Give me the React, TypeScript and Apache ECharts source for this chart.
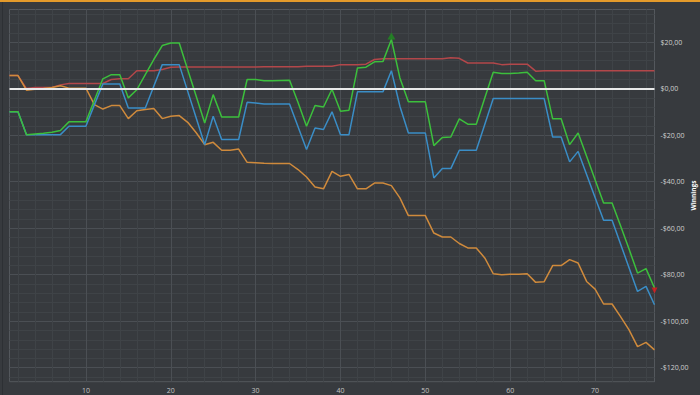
import React, { useEffect, useRef } from "react";
import * as echarts from "echarts";

// x positions (hand / game number)
const xValues = [
  1, 2, 3, 4, 5, 6, 7, 8, 9, 10, 11, 12, 13, 14, 15, 16, 17, 18, 19, 20,
  21, 22, 23, 24, 25, 26, 27, 28, 29, 30, 31, 32, 33, 34, 35, 36, 37, 38, 39, 40,
  41, 42, 43, 44, 45, 46, 47, 48, 49, 50, 51, 52, 53, 54, 55, 56, 57, 58, 59, 60,
  61, 62, 63, 64, 65, 66, 67, 68, 69, 70, 71, 72, 73, 74, 75, 76, 77,
];

const redValues = [
  5.6, 5.6, 0, 0.5, 0.5, 0.5, 1.6, 2.2, 2.2, 2.2, 2.2, 2.2, 3.9, 4.2, 4.2, 7.7, 7.7, 7.7, 8.2, 9.2,
  9.3, 9.3, 9.3, 9.3, 9.3, 9.3, 9.3, 9.3, 9.3, 9.3, 9.4, 9.4, 9.4, 9.4, 9.4, 9.6, 9.6, 9.6, 9.6, 10.3,
  10.3, 10.3, 10.5, 12.5, 12.8, 12.8, 12.8, 12.8, 12.8, 12.8, 12.8, 12.8, 13.3, 13.0, 11.0, 11.0, 11.0, 11.0, 10.3, 10.5,
  10.5, 10.5, 7.5, 7.7, 7.7, 7.7, 7.7, 7.7, 7.7, 7.7, 7.7, 7.7, 7.7, 7.7, 7.7, 7.7, 7.7,
];

const orangeValues = [
  5.6, 5.6, -0.7, -0.3, 0, 0.5, 1.2, 0.2, 0.2, 0.2, -6.9, -8.8, -7.3, -7.3, -12.9, -9.5, -9.0, -8.6, -12.9, -11.9,
  -11.6, -14.5, -19, -24.1, -23.1, -26.5, -26.5, -26, -31.7, -31.9, -32.1, -32.2, -32.2, -32.2, -34.8, -38, -42.3, -43.1, -35.6, -37.7,
  -36.9, -43.1, -43.1, -40.6, -40.6, -41.7, -47, -54.6, -54.6, -54.6, -62.1, -63.8, -63.8, -66.6, -68.5, -68.5, -72.8, -79.6, -80, -79.8,
  -79.8, -79.6, -83.3, -83, -76.1, -76.1, -73.5, -75, -82.9, -86.2, -92.6, -92.6, -98, -103.7, -110.9, -109.1, -112.3,
];

const blueValues = [
  -10, -10, -19.8, -19.8, -19.8, -19.8, -19.8, -16.2, -16.2, -16.2, -7, 2.0, 2.0, 2.0, -8.3, -8.3, -8.3, 1, 10.3, 10.3,
  10.3, -1.2, -12.6, -24.1, -11.9, -21.9, -21.9, -21.9, -5.9, -6.2, -6.6, -6.6, -6.6, -6.6, -16.4, -26.2, -16.9, -17.6, -10, -19.8,
  -19.8, -1.4, -1.4, -1.4, -1.4, 7.7, -7.6, -19.1, -19.1, -19.1, -38.4, -34.4, -34.4, -26.5, -26.5, -26.5, -15.4, -4.3, -4.3, -4.3,
  -4.3, -4.3, -4.3, -4.3, -20.8, -20.8, -31.5, -27, -36.9, -46.8, -56.6, -56.6, -66.8, -77, -87.2, -85, -92.9,
];

const greenValues = [
  -10, -10, -19.8, -19.5, -19.2, -18.8, -18, -14.3, -14.3, -14.3, -5, 4.2, 6, 6, -4, -0.5, 6, 12.5, 18.5, 19.6,
  19.6, 8.1, -3.3, -14.8, -2.6, -12.2, -12.2, -12.2, 3.9, 3.9, 3.4, 3.4, 3.5, 3.6, -6, -16.2, -7.3, -7.9, -0.3, -9.7,
  -9.3, 8.9, 9.2, 11.5, 11.6, 21.1, 4.6, -5.7, -5.7, -5.7, -24.5, -21, -20.8, -13, -15.3, -15.3, -4, 7.0, 6.5, 6.5,
  6.7, 7.0, 3.4, 3.4, -13, -13, -24.1, -19.1, -29.1, -39.2, -49.2, -49.2, -59, -69, -79.3, -77.4, -85.7,
];

const yTickLabels = [-120, -100, -80, -60, -40, -20, 0, 20];
const xTickLabels = [10, 20, 30, 40, 50, 60, 70];
const yMinorGrid = [
  -124, -120, -116, -112, -108, -104, -100, -96, -92, -88, -84, -80, -76, -72, -68, -64, -60, -56, -52, -48,
  -44, -40, -36, -32, -28, -24, -20, -16, -12, -8, -4, 4, 8, 12, 16, 20, 24, 28, 32,
];
const xMinorGrid = [
  2, 4, 6, 8, 10, 12, 14, 16, 18, 20, 22, 24, 26, 28, 30, 32, 34, 36, 38, 40,
  42, 44, 46, 48, 50, 52, 54, 56, 58, 60, 62, 64, 66, 68, 70, 72, 74, 76,
];
const yAxisTitle = "Winnings";

const FONT = "'Open Sans', 'Noto Sans', sans-serif";
const MINOR = "#3f4347";
const MAJOR = "#4b4f54";

function fmtMoney(v: number) {
  const s = "$" + Math.abs(v).toFixed(2).replace(".", ",");
  return v < 0 ? "-" + s : s;
}

export default function App() {
  const ref = useRef<HTMLDivElement>(null);

  useEffect(() => {
    if (!ref.current) return;
    const chart = echarts.init(ref.current, undefined, { renderer: "svg" });
    const pairs = (vals: number[]) => xValues.map((x, i) => [x, vals[i]]);

    let maxI = 0;
    let minI = 0;
    greenValues.forEach((v, i) => {
      if (v > greenValues[maxI]) maxI = i;
      if (v < greenValues[minI]) minI = i;
    });

    const gridLines: any[] = [
      ...yMinorGrid.map((v) => ({
        yAxis: v,
        lineStyle: { color: v % 20 === 0 ? MAJOR : MINOR, width: 1, type: "solid" },
      })),
      ...xMinorGrid.map((v) => ({
        xAxis: v,
        lineStyle: { color: v % 10 === 0 ? MAJOR : MINOR, width: 1, type: "solid" },
      })),
    ];

    const lineSeries = (name: string, vals: number[], color: string, z: number, extra: any = {}) => ({
      name,
      type: "line",
      data: pairs(vals),
      showSymbol: false,
      symbol: "none",
      z,
      lineStyle: { color, width: 1.5 },
      itemStyle: { color },
      ...extra,
    });

    chart.setOption({
      animation: false,
      backgroundColor: "#373a3e",
      textStyle: { fontFamily: FONT },
      graphic: [
        { type: "rect", left: 0, top: 0, shape: { width: 700, height: 2 }, style: { fill: "#e39a2b" }, z: 100 },
        { type: "rect", left: 2, top: 2, shape: { width: 1, height: 393 }, style: { fill: "#2d3034" }, z: 100 },
        {
          type: "text",
          x: 693,
          y: 195.5,
          rotation: Math.PI / 2,
          z: 100,
          style: {
            text: yAxisTitle,
            fill: "#ffffff",
            fontSize: 6.5,
            fontWeight: "bold",
            fontFamily: FONT,
            align: "center",
            verticalAlign: "middle",
          },
        },
      ],
      grid: {
        left: 9.5,
        right: 45.5,
        top: 9.5,
        bottom: 13.3,
        containLabel: false,
        outerBoundsMode: "none",
        show: true,
        borderColor: "#54585d",
        borderWidth: 1,
        backgroundColor: "transparent",
      },
      xAxis: {
        type: "value",
        min: 1,
        max: 77,
        splitNumber: 8,
        splitLine: { show: false },
        axisLine: { show: true, lineStyle: { color: "#54585d" } },
        axisTick: {
          show: true,
          length: 3,
          lineStyle: { color: "#54585d" },
          customValues: xMinorGrid,
        },
        axisLabel: {
          color: "#c4c4c4",
          fontSize: 7,
          fontFamily: FONT,
          margin: 5,
          customValues: xTickLabels,
          formatter: (v: number) => (v % 10 === 0 ? String(v) : ""),
        },
      },
      yAxis: {
        type: "value",
        position: "right",
        min: -126,
        max: 34,
        splitNumber: 8,
        splitLine: { show: false },
        axisLine: { show: true, lineStyle: { color: "#54585d" } },
        axisTick: { show: false },
        axisLabel: {
          color: "#cfcfcf",
          fontSize: 7,
          fontFamily: FONT,
          margin: 6,
          customValues: yTickLabels,
          formatter: (v: number) => (v % 20 === 0 ? fmtMoney(v) : ""),
        },
      },
      series: [
        lineSeries("Red", redValues, "#b3474a", 3, {
          markLine: {
            silent: true,
            symbol: "none",
            z: 1,
            label: { show: false },
            emphasis: { disabled: true },
            data: gridLines,
          },
        }),
        lineSeries("Orange", orangeValues, "#cf8a3c", 4),
        lineSeries("Blue", blueValues, "#3a8dc6", 5),
        lineSeries("Green", greenValues, "#3cbf3c", 6, {
          markLine: {
            silent: true,
            symbol: "none",
            z: 10,
            label: { show: false },
            emphasis: { disabled: true },
            lineStyle: { color: "#e8e8e8", width: 2, type: "solid", opacity: 1 },
            data: [
              {
                yAxis: 0,
                lineStyle: { color: "#e8e8e8", width: 2, type: "solid", opacity: 1 },
              },
            ],
          },
        }),
        {
          type: "scatter",
          z: 12,
          silent: true,
          data: [[xValues[maxI], greenValues[maxI]]],
          symbol: "triangle",
          symbolSize: [8, 7],
          symbolOffset: [0, -3.5],
          itemStyle: { color: "#1f8f1f" },
        },
        {
          type: "scatter",
          z: 12,
          silent: true,
          data: [[xValues[minI], greenValues[minI]]],
          symbol: "triangle",
          symbolRotate: 180,
          symbolSize: [6, 6],
          symbolOffset: [0, 2.5],
          itemStyle: { color: "#e41b1b" },
        },
      ],
    });

    return () => chart.dispose();
  }, []);

  return (
    <div
      ref={ref}
      style={{ position: "fixed", left: 0, top: 0, width: 700, height: 395 }}
    />
  );
}
